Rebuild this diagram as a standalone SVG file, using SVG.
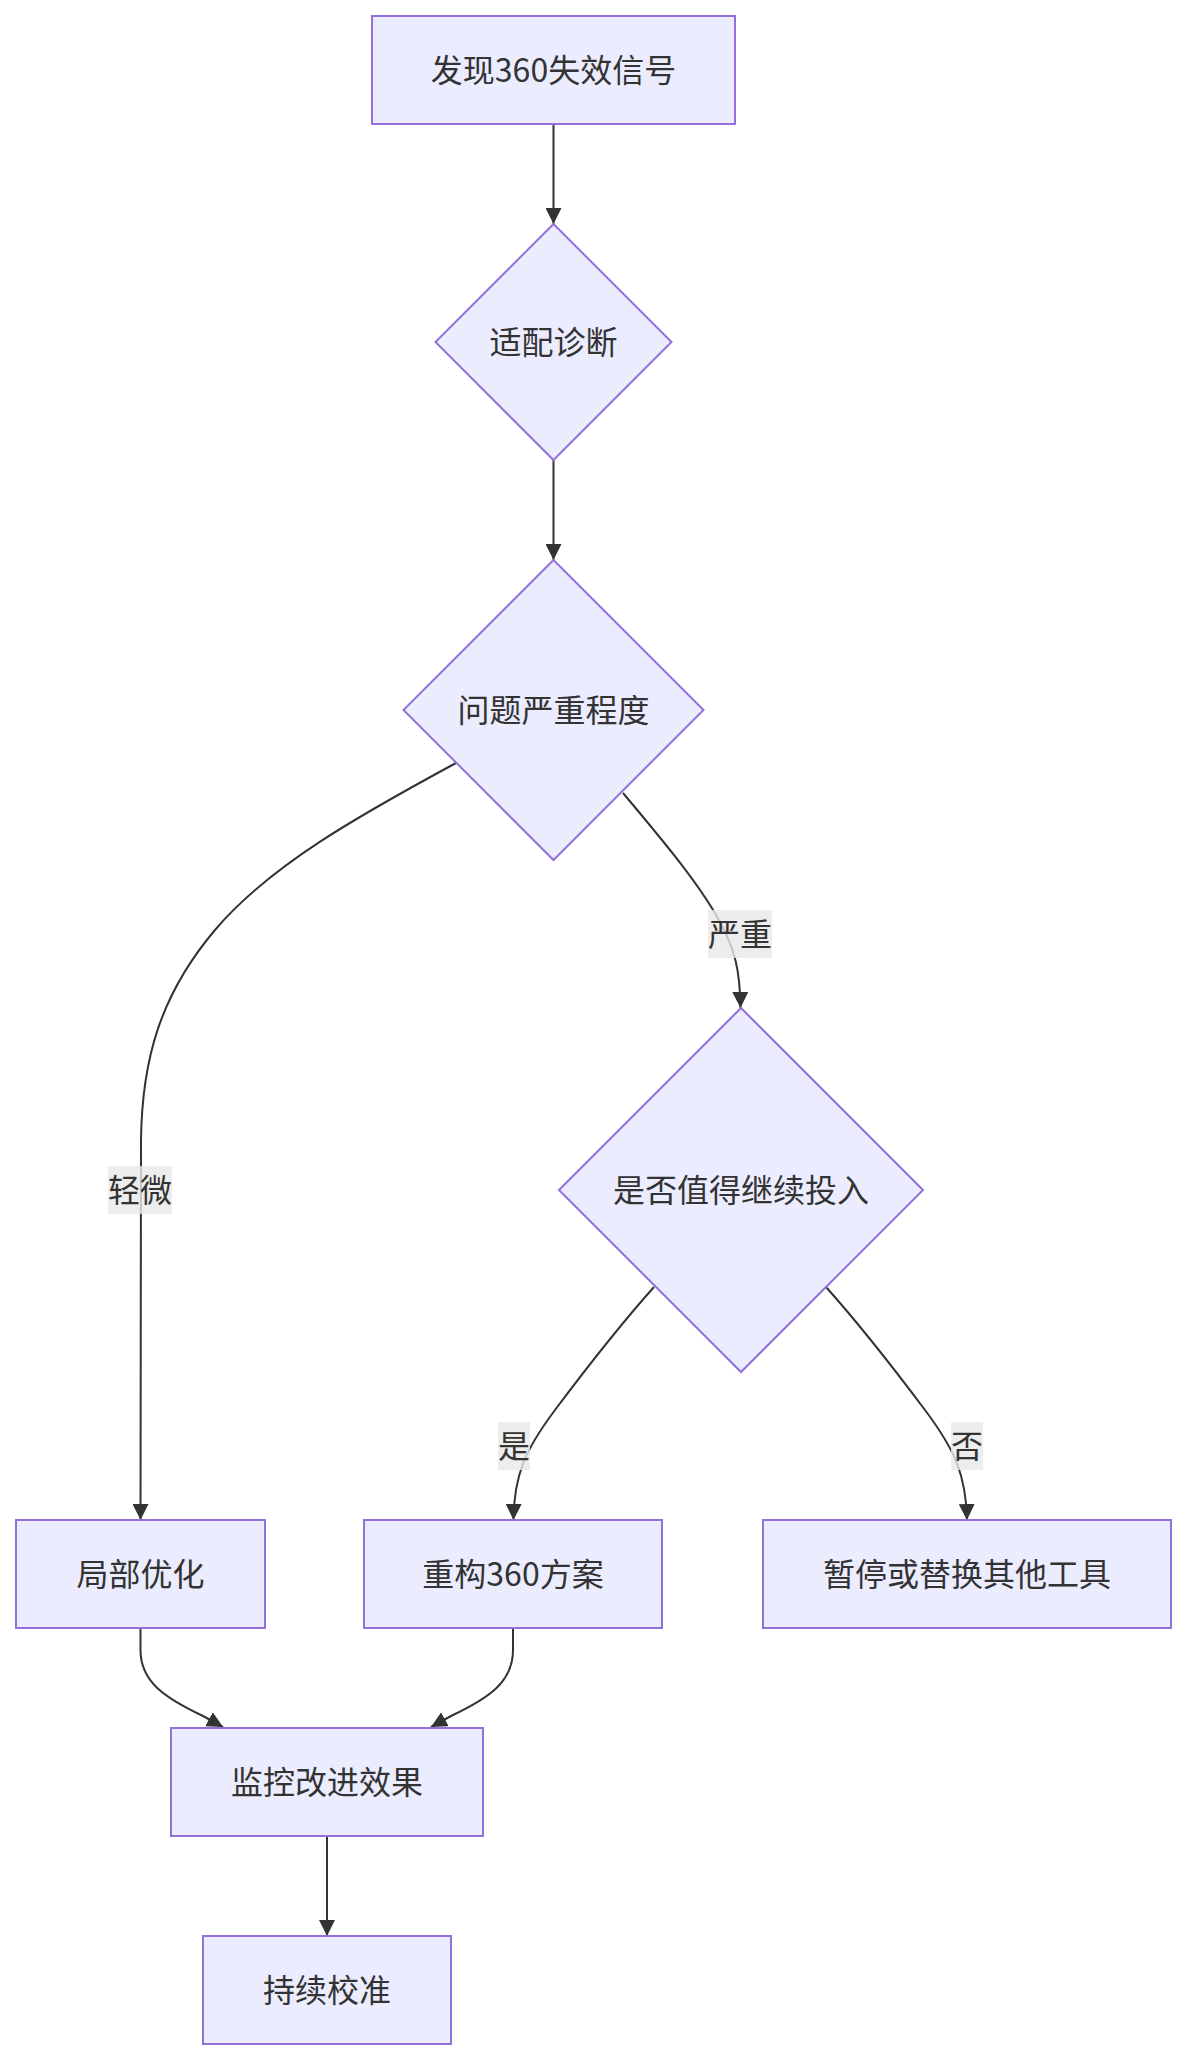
<svg xmlns="http://www.w3.org/2000/svg" width="1186" height="2060" viewBox="0 0 1186 2060">
<style>
.node rect,.node polygon{fill:#ECECFF;stroke:#9370DB;stroke-width:2}
.node text,.lbl text{font-family:"Noto Sans CJK SC","Liberation Sans",sans-serif;font-size:32px;fill:#333333;text-anchor:middle;dominant-baseline:central}
.edge{fill:none;stroke:#333333;stroke-width:2}
.lbl rect{fill:#e8e8e8;opacity:0.8}
</style>
<defs>
<marker id="arrow" viewBox="0 0 10 10" refX="10" refY="5" markerUnits="userSpaceOnUse" markerWidth="16" markerHeight="16" orient="auto">
<path d="M0,0 L10,5 L0,10 z" fill="#333333"/>
</marker>
</defs>
<rect width="1186" height="2060" fill="#ffffff"/>
<g id="connectors">
<path class="edge" d="M553.5,124 L553.5,224" marker-end="url(#arrow)"/>
<path class="edge" d="M553.5,460 L553.5,560" marker-end="url(#arrow)"/>
<path class="edge" d="M456,763 C360,815 270,865 215,930 C160,995 142,1060 141,1140 L140.5,1520" marker-end="url(#arrow)"/>
<path class="edge" d="M623,793 C665,843 700,885 720,922 C735,950 740,970 740.5,1008" marker-end="url(#arrow)"/>
<path class="edge" d="M654,1287 C620,1325 585,1370 555,1410 C525,1450 514,1475 513.5,1520" marker-end="url(#arrow)"/>
<path class="edge" d="M826,1287 C860,1325 895,1370 925,1410 C955,1450 966,1475 967,1520" marker-end="url(#arrow)"/>
<path class="edge" d="M140.5,1628 L140.5,1650 C140.5,1682 165,1698 203,1716 L223,1727" marker-end="url(#arrow)"/>
<path class="edge" d="M513,1628 L513,1650 C513,1682 489,1698 451,1716 L431,1727" marker-end="url(#arrow)"/>
<path class="edge" d="M327,1836 L327,1936" marker-end="url(#arrow)"/>
<g class="lbl"><rect x="708" y="910" width="64" height="48"/><text x="740" y="932">严重</text></g>
<g class="lbl"><rect x="108" y="1166" width="64" height="48"/><text x="140" y="1188">轻微</text></g>
<g class="lbl"><rect x="498" y="1422" width="32" height="48"/><text x="514" y="1444">是</text></g>
<g class="lbl"><rect x="951" y="1422" width="32" height="48"/><text x="967" y="1444">否</text></g>
</g>
<g id="n1" class="node"><rect x="372" y="16" width="363" height="108"/><text x="553.5" y="68">发现360失效信号</text></g>
<g id="n2" class="node"><polygon points="553.5,224 671.5,342 553.5,460 435.5,342"/><text x="553.5" y="340">适配诊断</text></g>
<g id="n3" class="node"><polygon points="553.5,560 703.5,710 553.5,860 403.5,710"/><text x="553.5" y="708">问题严重程度</text></g>
<g id="n4" class="node"><polygon points="741,1008 923,1190 741,1372 559,1190"/><text x="741" y="1188">是否值得继续投入</text></g>
<g id="n5" class="node"><rect x="16" y="1520" width="249" height="108"/><text x="140.5" y="1572">局部优化</text></g>
<g id="n6" class="node"><rect x="364" y="1520" width="298" height="108"/><text x="513" y="1572">重构360方案</text></g>
<g id="n7" class="node"><rect x="763" y="1520" width="408" height="108"/><text x="967" y="1572">暂停或替换其他工具</text></g>
<g id="n8" class="node"><rect x="171" y="1728" width="312" height="108"/><text x="327" y="1780">监控改进效果</text></g>
<g id="n9" class="node"><rect x="203" y="1936" width="248" height="108"/><text x="327" y="1988">持续校准</text></g>
</svg>
